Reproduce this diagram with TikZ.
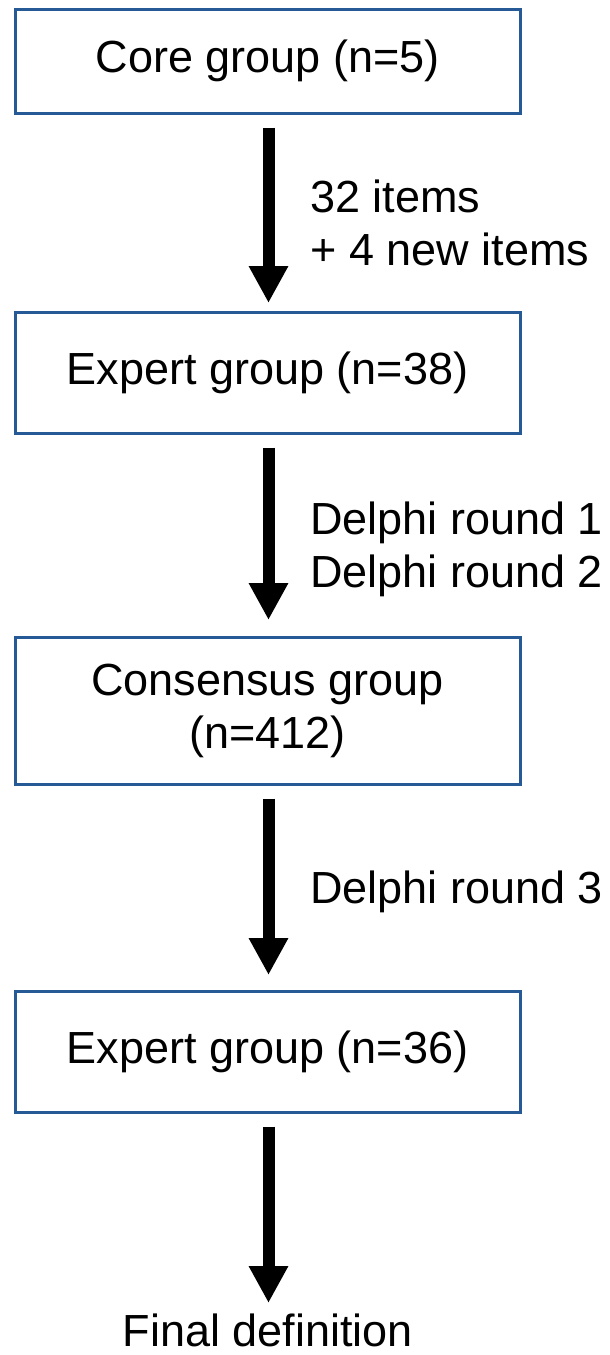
\documentclass[tikz,border=0pt]{standalone}
\usepackage{fontspec}
\setmainfont{Liberation Sans}
\usetikzlibrary{arrows.meta}
\definecolor{boxblue}{RGB}{38,90,150}
\tikzset{
  box/.style={draw=boxblue, line width=1.5pt, fill=white, minimum width=252.5pt, inner sep=0pt, align=center,
    font=\fontsize{22.5pt}{26.5pt}\selectfont},
  lbl/.style={anchor=base west, inner sep=0pt, align=left, font=\fontsize{22.5pt}{26.5pt}\selectfont},
  bigarrow/.style={line width=6pt, -{Triangle[width=18.5pt,length=18.5pt]}, shorten <=6.5pt}
}
\begin{document}
\begin{tikzpicture}[x=0.5pt,y=-0.5pt]
\useasboundingbox (0,0) rectangle (610,1355);
\node[box, minimum height=52pt] (b1) at (267.5,61) {Core group (n=5)};
\node[box, minimum height=60.5pt] (b2) at (267.5,372.5) {Expert group (n=38)};
\node[box, minimum height=73.5pt] (b3) at (267.5,710.5) {Consensus group\\(n=412)};
\node[box, minimum height=60.5pt] (b4) at (267.5,1051.5) {Expert group (n=36)};
\node[anchor=base, inner sep=0pt, font=\fontsize{22.5pt}{26.5pt}\selectfont] (fin) at (268,1346) {Final definition};
\coordinate (t1) at (268.5,303);
\coordinate (t2) at (268.5,620);
\coordinate (t3) at (268.5,975);
\coordinate (t4) at (268.5,1303);
\draw[bigarrow] (b1.south -| t1) -- (t1);
\draw[bigarrow] (b2.south -| t2) -- (t2);
\draw[bigarrow] (b3.south -| t3) -- (t3);
\draw[bigarrow] (b4.south -| t4) -- (t4);
\node[lbl] (l1) at (310,265) {32 items\\+ 4 new items};
\node[lbl] (l2) at (310,587) {Delphi round 1\\Delphi round 2};
\node[lbl] (l3) at (310,903) {Delphi round 3};
\end{tikzpicture}
\end{document}
